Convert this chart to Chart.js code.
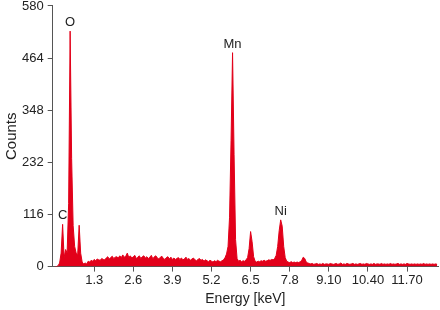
<!DOCTYPE html>
<html>
<head>
<meta charset="utf-8">
<script src="https://cdn.jsdelivr.net/npm/chart.js@4.4.1/dist/chart.umd.min.js"></script>
<style>
  html, body { margin: 0; padding: 0; background: #fff; }
  #wrap { width: 440px; height: 310px; }
</style>
</head>
<body>
<div id="wrap"><canvas id="c" width="440" height="310"></canvas></div>
<script>
// Spectrum channels: 0.00 keV to 12.70 keV, 0.05 keV per channel
const channelStart = 0;
const channelWidth = 0.05;

// Counts per channel
const counts = [
  // 0.00 - 1.00
  0, 0, 2, 8, 30, 94, 20, 38, 30, 140, 524, 240, 91, 45, 30, 25, 92, 30, 10, 6, 8,
  // 1.05 - 2.00
  6, 12, 10, 14, 12, 16, 13, 17, 15, 14, 18, 16, 15, 19, 22, 17, 20, 23, 18, 21,
  // 2.05 - 3.00
  22, 19, 24, 20, 26, 21, 23, 30, 20, 24, 19, 22, 25, 18, 21, 24, 18, 22, 24, 19,
  // 3.05 - 4.00
  22, 18, 21, 25, 17, 22, 24, 19, 17, 21, 23, 18, 16, 20, 22, 17, 21, 16, 19, 16,
  // 4.05 - 5.00
  18, 20, 16, 19, 15, 17, 21, 16, 18, 14, 17, 19, 15, 13, 16, 18, 14, 16, 12, 15,
  // 5.05 - 6.00
  13, 11, 14, 12, 10, 13, 11, 14, 12, 11, 13, 15, 20, 28, 45, 110, 280, 476, 250, 60,
  // 6.05 - 7.00
  18, 12, 14, 11, 13, 12, 15, 20, 40, 78, 55, 22, 12, 10, 12, 11, 13, 12, 14, 12,
  // 7.05 - 8.00
  13, 15, 14, 16, 15, 18, 25, 45, 80, 104, 90, 45, 20, 12, 10, 9, 11, 9, 10, 9,
  // 8.05 - 9.00
  10, 9, 11, 14, 21, 18, 10, 8, 7, 6, 7, 5, 6, 7, 5, 6, 5, 7, 5, 6,
  // 9.05 - 10.00
  6, 5, 7, 6, 5, 6, 7, 5, 6, 8, 5, 6, 5, 7, 6, 5, 6, 7, 5, 6,
  // 10.05 - 11.00
  5, 6, 7, 5, 6, 5, 7, 6, 5, 6, 5, 7, 5, 6, 6, 5, 7, 5, 6, 5,
  // 11.05 - 12.00
  6, 5, 7, 5, 6, 5, 6, 7, 5, 6, 5, 6, 5, 7, 6, 5, 6, 5, 6, 5,
  // 12.05 - 12.70
  6, 5, 6, 5, 7, 5, 6, 5, 6, 5, 6, 5, 6, 5
];

// Axis ticks
const xTickValues = [1.3, 2.6, 3.9, 5.2, 6.5, 7.8, 9.1, 10.4, 11.7];
const xTickLabels = ["1.3", "2.6", "3.9", "5.2", "6.5", "7.8", "9.10", "10.40", "11.70"];
const yTickValues = [0, 116, 232, 348, 464, 580];

// Peak labels
const peakNames = ["C", "O", "Mn", "Ni"];
const peakEnergies = [0.25, 0.5, 5.9, 7.5];
const peakCounts = [94, 524, 476, 104];

const points = counts.map((c, i) => ({ x: +(channelStart + i * channelWidth).toFixed(2), y: c }));

const RED = 'rgb(226, 0, 26)';
const TEXT = '#222';
const FONT = "'Liberation Sans', Arial, Helvetica, sans-serif";

const peakLabelPlugin = {
  id: 'peakLabels',
  afterDatasetsDraw(chart) {
    const ctx = chart.ctx;
    const xs = chart.scales.x, ys = chart.scales.y;
    ctx.save();
    ctx.font = "13px " + FONT;
    ctx.fillStyle = TEXT;
    ctx.textAlign = 'center';
    ctx.textBaseline = 'bottom';
    peakNames.forEach((n, i) => {
      const px = xs.getPixelForValue(peakEnergies[i]);
      const py = ys.getPixelForValue(peakCounts[i]);
      ctx.fillText(n, px, py - 2);
    });
    ctx.restore();
  }
};

new Chart(document.getElementById('c'), {
  type: 'line',
  data: {
    datasets: [{
      data: points,
      borderColor: RED,
      backgroundColor: RED,
      borderWidth: 1,
      pointRadius: 0,
      tension: 0,
      fill: 'origin'
    }]
  },
  plugins: [peakLabelPlugin],
  options: {
    responsive: false,
    animation: false,
    devicePixelRatio: 1,
    layout: { padding: { left: 6, right: 2, top: 0, bottom: 2 } },
    plugins: { legend: { display: false }, tooltip: { enabled: false } },
    scales: {
      x: {
        type: 'linear',
        min: -0.08,
        max: 12.73,
        afterBuildTicks: (scale) => { scale.ticks = xTickValues.map(v => ({ value: v })); },
        ticks: {
          autoSkip: false,
          maxRotation: 0,
          color: TEXT,
          font: { family: FONT, size: 13 },
          padding: 1,
          callback: (v) => { const k = xTickValues.indexOf(v); return k >= 0 ? xTickLabels[k] : ''; }
        },
        grid: { display: true, drawOnChartArea: false, drawTicks: true, tickLength: 5, color: '#555' },
        border: { display: true, color: '#555', width: 1 },
        title: { display: true, text: 'Energy [keV]', color: TEXT, font: { family: FONT, size: 14 }, padding: { top: 2, bottom: 0 } }
      },
      y: {
        min: 0,
        max: 580,
        afterBuildTicks: (scale) => { scale.ticks = yTickValues.map(v => ({ value: v })); },
        ticks: {
          color: TEXT,
          font: { family: FONT, size: 13, lineHeight: 0.3 },
          padding: 4
        },
        grid: { display: true, drawOnChartArea: false, drawTicks: true, tickLength: 5, color: '#555' },
        border: { display: true, color: '#555', width: 1 },
        title: { display: true, text: 'Counts', color: TEXT, font: { family: FONT, size: 15, lineHeight: 0.8 }, padding: { top: 0, bottom: 0 } }
      }
    }
  }
});
</script>
</body>
</html>
